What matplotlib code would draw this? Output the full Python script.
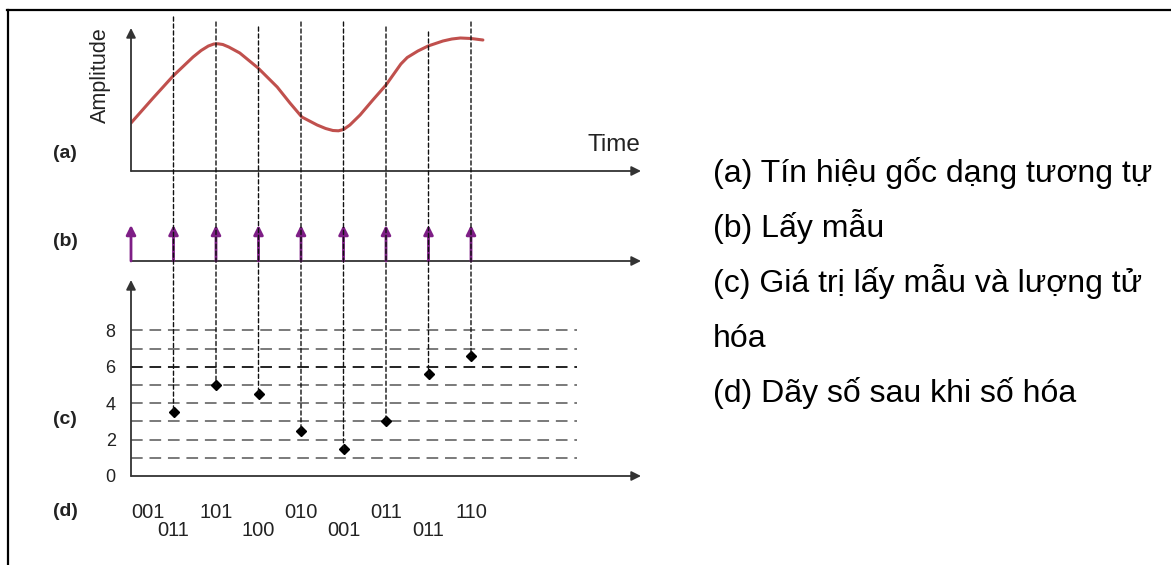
import matplotlib
matplotlib.use("Agg")
import matplotlib.pyplot as plt
from matplotlib.lines import Line2D
from matplotlib.patches import ConnectionPatch

plt.rcParams['font.family'] = ['Liberation Sans', 'DejaVu Sans']

################## DATA ##################
# analog signal (a): time in sample periods, amplitude in arbitrary units
curve_t = [0.0, 0.52, 0.99, 1.46, 1.65, 1.82, 1.95, 2.05, 2.16, 2.3, 2.56, 2.99, 3.44,
           3.74, 4.02, 4.38, 4.58, 4.75, 4.88, 5.0, 5.15, 5.39, 5.69, 6.0, 6.2, 6.35,
           6.5, 6.75, 6.99, 7.34, 7.55, 7.75, 8.0, 8.28]
curve_amp = [4.8, 7.3, 9.5, 11.4, 12.05, 12.5, 12.7, 12.72, 12.65, 12.4, 11.8, 10.3, 8.4,
             6.8, 5.4, 4.6, 4.25, 4.05, 4.02, 4.15, 4.6, 5.6, 7.1, 8.6, 9.8, 10.7,
             11.35, 12.0, 12.5, 13.0, 13.2, 13.3, 13.25, 13.1]

# sampling instants (b)
sample_t = [0, 1, 2, 3, 4, 5, 6, 7, 8]

# sampled values (c), one per sampling instant 1..8
value_t = [1, 2, 3, 4, 5, 6, 7, 8]
sample_values = [3.5, 5.0, 4.5, 2.5, 1.5, 3.0, 5.6, 6.6]
guide_tops = [15.4, 14.9, 14.4, 14.9, 14.9, 14.4, 13.9, 14.9]  # top of dashed guides, in (a) units

quant_levels = [1, 2, 3, 4, 5, 6, 7, 8]
level_ticks = [0, 2, 4, 6, 8]

# digital codes (d)
codes = ["001", "011", "101", "100", "010", "001", "011", "011", "110"]

legend_lines = ["(a) Tín hiệu gốc dạng tương tự",
                "(b) Lấy mẫu",
                "(c) Giá trị lấy mẫu và lượng tử",
                "hóa",
                "(d) Dãy số sau khi số hóa"]

################## FIGURE ##################
W, H = 1171, 565
fig = plt.figure(figsize=(W / 100, H / 100), dpi=100)


def px_axes(x0, y0, x1, y1):
    # axes placed by pixel box (top-left origin)
    ax = fig.add_axes([x0 / W, 1 - y1 / H, (x1 - x0) / W, (y1 - y0) / H])
    ax.patch.set_alpha(0)
    return ax


def fpos(x, y):
    return x / W, 1 - y / H


axis_col = "#333333"
arrow_kw = dict(arrowstyle="-|>", color=axis_col, lw=1.3, mutation_scale=14,
                shrinkA=0, shrinkB=0)

# border (top and left)
fig.add_artist(Line2D([7 / W, 1], [1 - 10 / H] * 2, color="black", lw=1.6))
fig.add_artist(Line2D([8 / W] * 2, [1 - 10 / H, 0], color="black", lw=1.6))

# ---------------- (a) analog signal ----------------
axA = px_axes(131, 28, 641, 171)
axA.set_xlim(0, 12)
axA.set_ylim(0, 14.3)
axA.axis("off")
axA.annotate("", xy=(12, 0), xytext=(0, 0), arrowprops=arrow_kw, annotation_clip=False)
axA.annotate("", xy=(0, 14.3), xytext=(0, 0), arrowprops=arrow_kw, annotation_clip=False)
axA.plot(curve_t, curve_amp, color="#C0504D", lw=2.2, solid_capstyle="round",
         solid_joinstyle="round")

# ---------------- (b) sampling ----------------
axB = px_axes(131, 225, 641, 261)
axB.set_xlim(0, 12)
axB.set_ylim(0, 1)
axB.axis("off")
axB.annotate("", xy=(12, 0), xytext=(0, 0), arrowprops=arrow_kw, annotation_clip=False)
for t in sample_t:
    axB.annotate("", xy=(t, 1), xytext=(t, 0),
                 arrowprops=dict(arrowstyle="-|>", color="#7E1E86", lw=2.0,
                                 mutation_scale=14, shrinkA=0, shrinkB=0),
                 annotation_clip=False)

# ---------------- (c) quantised values ----------------
axC = px_axes(131, 280, 641, 476)
axC.set_xlim(0, 12)
axC.set_ylim(0, 10.77)
for s in axC.spines.values():
    s.set_visible(False)
axC.set_xticks([])
axC.set_yticks(level_ticks)
axC.tick_params(axis="y", length=0, pad=11, labelsize=13, labelcolor="#222222")
axC.annotate("", xy=(12, 0), xytext=(0, 0), arrowprops=arrow_kw, annotation_clip=False)
axC.annotate("", xy=(0, 10.77), xytext=(0, 0), arrowprops=arrow_kw, annotation_clip=False)
for lv in quant_levels:
    axC.plot([0, 10.5], [lv, lv], color="#222222" if lv == 6 else "#7a7a7a",
             lw=1.4, dashes=(6, 3.5))
axC.plot(value_t, sample_values, linestyle="none", marker="D", markersize=5,
         color="black")

# dashed guides from the top of (a) down to each sampled value
for t, top, v in zip(value_t, guide_tops, sample_values):
    con = ConnectionPatch(xyA=(t, top), coordsA=axA.transData,
                          xyB=(t, v), coordsB=axC.transData,
                          color="#111111", lw=1.0, linestyle=(0, (3, 2)))
    fig.add_artist(con)

# ---------------- (d) codes ----------------
for i, (t, code) in enumerate(zip(sample_t, codes)):
    y = -2.03 if i % 2 == 0 else -2.97
    axC.text(t, y, code, ha="left" if i == 0 else "center", va="center",
             fontsize=14.5, color="#222222", clip_on=False)

# ---------------- labels ----------------
fig.text(*fpos(100, 75), "Amplitude", rotation=90, ha="center", va="center",
         fontsize=15.5, color="#222222")
fig.text(*fpos(640, 151), "Time", ha="right", va="baseline", fontsize=17.5,
         color="#222222")
for lab, y in zip(["(a)", "(b)", "(c)", "(d)"], [154, 241, 420, 512]):
    fig.text(*fpos(53, y), lab, ha="left", va="center", fontsize=14,
             fontweight="bold", color="#222222")

for k, line in enumerate(legend_lines):
    fig.text(*fpos(713, 182 + 55 * k), line, ha="left", va="baseline",
             fontsize=23, color="black")

fig.savefig("out.png", dpi=100)
